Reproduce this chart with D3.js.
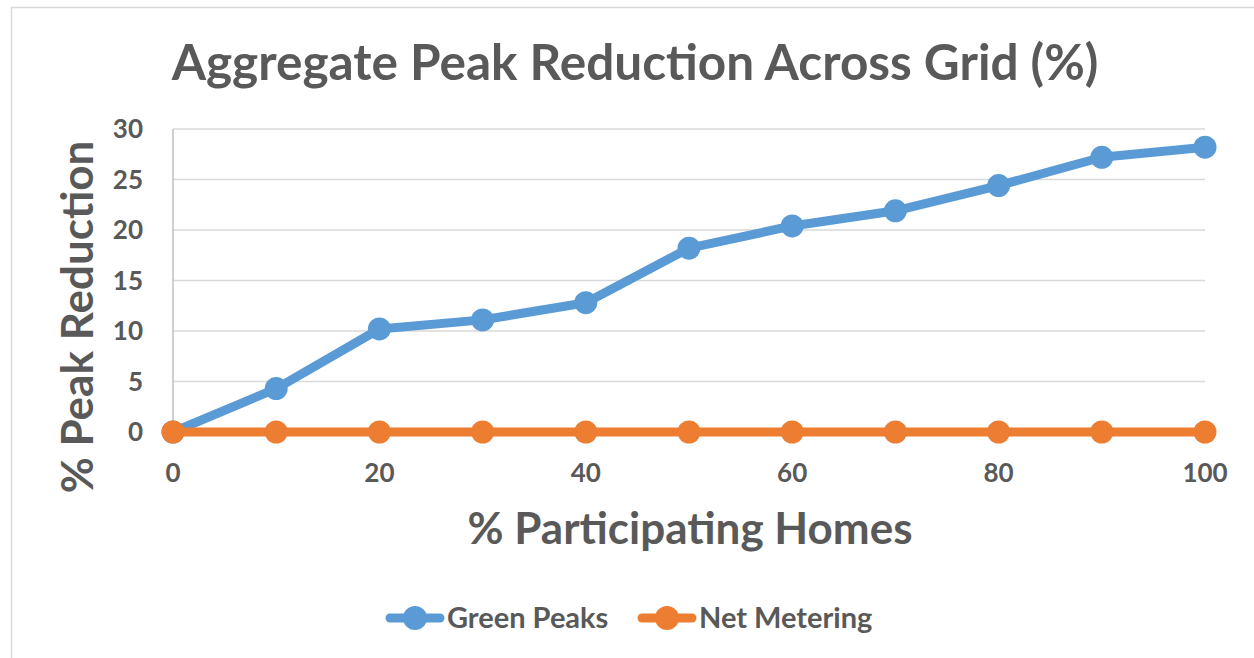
<!DOCTYPE html>
<html>
<head>
    <meta charset="utf-8">
    <style>
        body { margin: 0; background: #fff; }
        svg { display: block; }
        text { font-family: Lato, 'Open Sans', sans-serif; font-weight: bold; fill: #595959; }
    </style>
</head>
<body>
<svg width="1254" height="658"></svg>

<script src="https://d3js.org/d3.v7.min.js"></script>
<script>
    // data
    let homes = [0, 10, 20, 30, 40, 50, 60, 70, 80, 90, 100];
    let greenPeaks = [0, 4.3, 10.2, 11.1, 12.8, 18.2, 20.4, 21.9, 24.4, 27.2, 28.2];
    let netMetering = [0, 0, 0, 0, 0, 0, 0, 0, 0, 0, 0];
    let xTicks = [0, 20, 40, 60, 80, 100];
    let yTicks = [0, 5, 10, 15, 20, 25, 30];
    let seriesNames = ["Green Peaks", "Net Metering"];
    let colors = ["#5b9bd5", "#ed7d31"];

    let svg = d3.select("svg");

    // outer chart border (runs off the picture right and bottom)
    svg.append("rect")
        .attr("x", 11.5).attr("y", 7.5)
        .attr("width", 1260).attr("height", 670)
        .style("fill", "none")
        .style("stroke", "#d9d9d9")
        .style("stroke-width", 1.5)

    let x = d3.scaleLinear().domain([0, 100]).range([173, 1205]);
    let y = d3.scaleLinear().domain([0, 30]).range([432, 129]);

    // gridlines
    svg.selectAll(".grid")
        .data(yTicks)
        .join("line")
        .attr("x1", x(0)).attr("x2", x(100))
        .attr("y1", d => y(d)).attr("y2", d => y(d))
        .style("stroke", "#d9d9d9")
        .style("stroke-width", 1.5)

    // left axis line
    svg.append("line")
        .attr("x1", x(0)).attr("x2", x(0))
        .attr("y1", y(30)).attr("y2", y(0))
        .style("stroke", "#bfbfbf")
        .style("stroke-width", 1.5)

    // y tick labels
    svg.selectAll(".ytick")
        .data(yTicks)
        .join("text")
        .attr("x", 143)
        .attr("y", d => y(d))
        .attr("dy", "0.36em")
        .attr("text-anchor", "end")
        .style("font-size", "26px")
        .text(d => d)

    // x tick labels
    svg.selectAll(".xtick")
        .data(xTicks)
        .join("text")
        .attr("x", d => x(d))
        .attr("y", 482)
        .attr("text-anchor", "middle")
        .style("font-size", "26px")
        .text(d => d)

    // titles
    svg.append("text")
        .attr("x", 635).attr("y", 80)
        .attr("text-anchor", "middle")
        .style("font-size", "49.5px")
        .text("Aggregate Peak Reduction Across Grid (%)")

    svg.append("text")
        .attr("x", 690).attr("y", 544)
        .attr("text-anchor", "middle")
        .style("font-size", "44px")
        .text("% Participating Homes")

    svg.append("text")
        .attr("transform", "translate(93,317) rotate(-90)")
        .attr("text-anchor", "middle")
        .style("font-size", "44px")
        .text("% Peak Reduction")

    let line = d3.line()
        .x((d, i) => x(homes[i]))
        .y(d => y(d))

    let series = [greenPeaks, netMetering];

    series.forEach(function(values, s) {
        svg.append("path")
            .datum(values)
            .attr("d", line)
            .style("fill", "none")
            .style("stroke", colors[s])
            .style("stroke-width", 9)
            .style("stroke-linejoin", "round")

        svg.selectAll(".pt" + s)
            .data(values)
            .join("circle")
            .attr("cx", (d, i) => x(homes[i]))
            .attr("cy", d => y(d))
            .attr("r", 11.5)
            .style("fill", colors[s])
    })

    // legend
    let legendX = [386, 638];
    let legend = svg.selectAll(".legend")
        .data(seriesNames)
        .join("g")
        .attr("transform", (d, i) => "translate(" + legendX[i] + ",618)")

    legend.append("line")
        .attr("x1", 4).attr("x2", 54)
        .attr("y1", 0).attr("y2", 0)
        .style("stroke", (d, i) => colors[i])
        .style("stroke-width", 9)
        .style("stroke-linecap", "round")

    legend.append("circle")
        .attr("cx", 29).attr("cy", 0)
        .attr("r", 12)
        .style("fill", (d, i) => colors[i])

    legend.append("text")
        .attr("x", 61).attr("y", 0)
        .attr("dy", "0.35em")
        .style("font-size", "29px")
        .text(d => d)
</script>
</body>
</html>
